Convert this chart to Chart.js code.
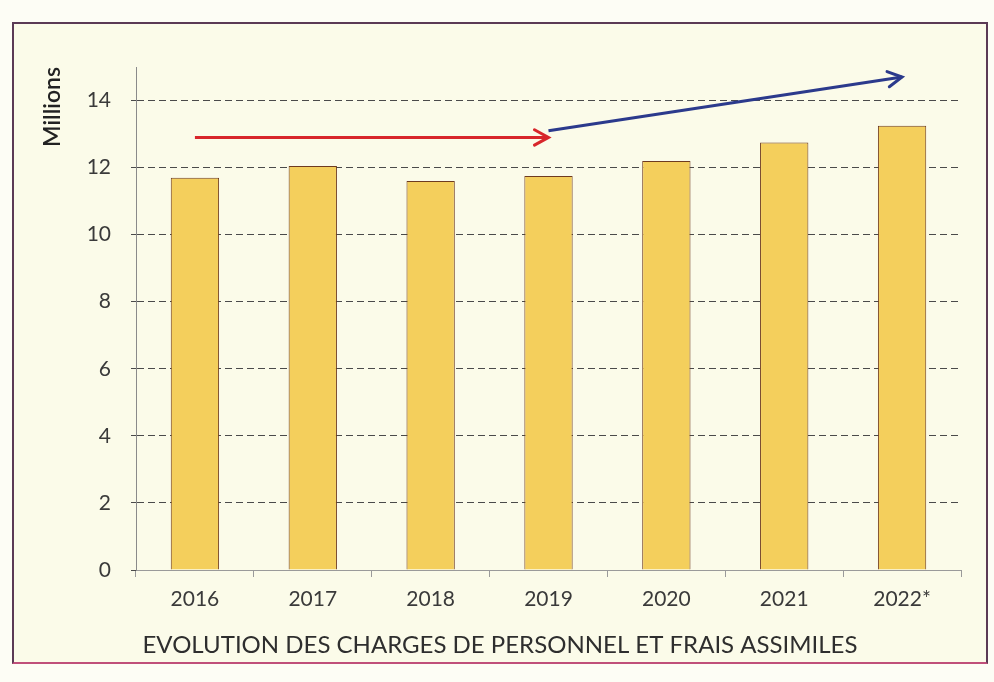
<!DOCTYPE html>
<html>
<head>
<meta charset="utf-8">
<script src="https://cdn.jsdelivr.net/npm/chart.js@4.4.0/dist/chart.umd.min.js"></script>
<style>
    body { margin: 0; background: #fdfdf5; }
    #cadre {
        position: absolute;
        left: 12px;
        top: 22px;
        width: 972px;
        height: 638px;
        border: 2px solid #5b3a55;
        border-bottom-color: #c0507a;
        background: #fbfbe9;
    }
</style>
</head>
<body>
<div id="cadre"><canvas id="chargesCanvas" width="972" height="638"></canvas></div>
<script>
// Données du graphique
const annees = ['2016', '2017', '2018', '2019', '2020', '2021', '2022*'];
const charges = [11.7, 12.05, 11.6, 11.75, 12.2, 12.75, 13.25];
const flecheRouge = [{ x: '2016', y: 12.9 }, { x: '2019', y: 12.9 }];
const flecheBleue = [{ x: '2019', y: 13.1 }, { x: '2022*', y: 14.7 }];
const graduations = [0, 2, 4, 6, 8, 10, 12, 14];

const police = 'Lato, "Open Sans", sans-serif';

// Plugin pour dessiner la pointe des flèches
const pointesFleches = {
    id: 'pointesFleches',
    afterDatasetsDraw(chart) {
        const ctx = chart.ctx;
        chart.data.datasets.forEach((ds, i) => {
            if (ds.type !== 'line') return;
            const pts = chart.getDatasetMeta(i).data;
            const a = pts[pts.length - 2];
            const b = pts[pts.length - 1];
            const ang = Math.atan2(b.y - a.y, b.x - a.x);
            const taille = 16;
            ctx.save();
            ctx.strokeStyle = ds.borderColor;
            ctx.lineWidth = ds.borderWidth;
            ctx.lineCap = 'round';
            ctx.beginPath();
            ctx.moveTo(b.x - taille * Math.cos(ang - 0.5), b.y - taille * Math.sin(ang - 0.5));
            ctx.lineTo(b.x, b.y);
            ctx.lineTo(b.x - taille * Math.cos(ang + 0.5), b.y - taille * Math.sin(ang + 0.5));
            ctx.stroke();
            ctx.restore();
        });
    }
};

new Chart(document.getElementById('chargesCanvas'), {
    type: 'bar',
    data: {
        labels: annees,
        datasets: [{
            type: 'line',
            data: flecheRouge,
            borderColor: '#d8262b',
            borderWidth: 3,
            pointRadius: 0,
            order: 0
        }, {
            type: 'line',
            data: flecheBleue,
            borderColor: '#2b3a8c',
            borderWidth: 3,
            pointRadius: 0,
            order: 0
        }, {
            data: charges,
            backgroundColor: '#f4cf5c',
            borderColor: '#6e3b1f',
            borderWidth: 1,
            borderSkipped: 'bottom',
            barPercentage: 0.41,
            categoryPercentage: 1,
            order: 1
        }]
    },
    options: {
        responsive: false,
        animation: false,
        layout: { padding: { top: 43, right: 25, left: 25, bottom: 0 } },
        plugins: {
            legend: { display: false },
            tooltip: { enabled: false },
            title: {
                display: true,
                position: 'bottom',
                text: 'EVOLUTION DES CHARGES DE PERSONNEL ET FRAIS ASSIMILES',
                color: '#2e2e2e',
                font: { family: police, size: 24, weight: 'normal' },
                padding: { top: 9, bottom: 2 }
            }
        },
        scales: {
            x: {
                grid: {
                    offset: true,
                    drawOnChartArea: false,
                    tickLength: 7,
                    color: '#9a9a9a'
                },
                border: { color: '#9a9a9a' },
                ticks: {
                    color: '#3a3a3a',
                    font: { family: police, size: 21 },
                    padding: 10
                }
            },
            y: {
                min: 0,
                max: 15,
                afterBuildTicks(scale) {
                    scale.ticks = graduations.map(v => ({ value: v }));
                },
                afterFit(scale) {
                    scale.width = 97;
                },
                grid: {
                    color: '#4a4a4a',
                    lineWidth: 1,
                    tickLength: 5
                },
                border: { color: '#8a8a8a', dash: [7, 4] },
                ticks: {
                    color: '#3a3a3a',
                    font: { family: police, size: 21 },
                    padding: 20
                },
                title: {
                    display: true,
                    text: 'Millions',
                    align: 'end',
                    color: '#222',
                    font: { family: police, size: 23, weight: '600' },
                    padding: { top: 0, bottom: 0 }
                }
            }
        }
    },
    plugins: [pointesFleches]
});
</script>
</body>
</html>
